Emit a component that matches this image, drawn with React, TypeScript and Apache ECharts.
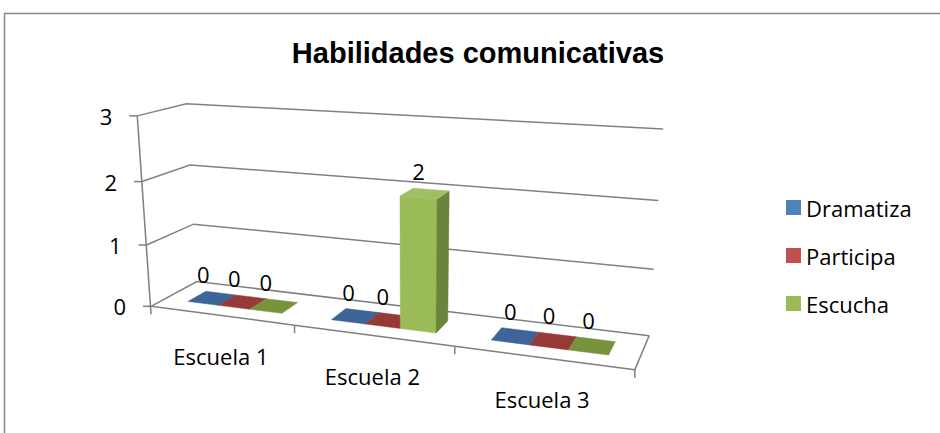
import React, { useEffect, useRef } from "react";
import * as echarts from "echarts";

// ---------- data ----------
const categories = ["Escuela 1", "Escuela 2", "Escuela 3"];
const seriesNames = ["Dramatiza", "Participa", "Escucha"];
const dramatiza = [0, 0, 0];
const participa = [0, 0, 0];
const escucha = [0, 2, 0];
const yTicks = [0, 1, 2, 3];
const yMax = 3;
const title = "Habilidades comunicativas";

// ---------- styles ----------
const FRONT = ["#4F81BD", "#C0504D", "#9BBB59"];
const SIDE = ["#3B6192", "#913B39", "#6B833B"];
const TOP = ["#5A8AC6", "#C85B58", "#A0BF62"];
const FLAT = ["#3D6597", "#963A38", "#78933E"];
const GRID = "#808080";
const LW = 1.5;
const FONT = "'Open Sans', sans-serif";

// perspective calibration: [cat, value, depth] -> page pixel
const CAL: number[][] = [
  [0, 0, 0, 151, 306],
  [1, 0, 0, 294, 325],
  [2, 0, 0, 455, 347],
  [3, 0, 0, 635, 369.3],
  [0, 1, 0, 146.7, 245],
  [0, 2, 0, 141.7, 181.7],
  [0, 3, 0, 137.7, 116],
  [0, 0, 1, 196.7, 281.7],
  [0, 1, 1, 195, 224.3],
  [0, 2, 1, 188.3, 165],
  [0, 3, 1, 186.7, 103.3],
  [3, 0, 1, 649.3, 335.7],
  [3, 1, 1, 653.3, 269],
  [3, 2, 1, 658.3, 200.7],
  [3, 3, 1, 663.3, 129],
];

function fitProjection(cal: number[][]) {
  const rows: number[][] = [];
  const rhs: number[] = [];
  for (const [X, Y, Z, u0, v0] of cal) {
    const u = (u0 - 400) / 100;
    const v = (v0 - 250) / 100;
    rows.push([X, Y, Z, 1, 0, 0, 0, 0, -u * X, -u * Y, -u * Z]);
    rhs.push(u);
    rows.push([0, 0, 0, 0, X, Y, Z, 1, -v * X, -v * Y, -v * Z]);
    rhs.push(v);
  }
  const n = 11;
  const M = Array.from({ length: n }, () => new Array(n + 1).fill(0));
  for (let r = 0; r < rows.length; r++) {
    for (let i = 0; i < n; i++) {
      for (let j = 0; j < n; j++) M[i][j] += rows[r][i] * rows[r][j];
      M[i][n] += rows[r][i] * rhs[r];
    }
  }
  for (let c = 0; c < n; c++) {
    let p = c;
    for (let r = c + 1; r < n; r++) if (Math.abs(M[r][c]) > Math.abs(M[p][c])) p = r;
    const tmp = M[c];
    M[c] = M[p];
    M[p] = tmp;
    for (let r = 0; r < n; r++) {
      if (r === c) continue;
      const f = M[r][c] / M[c][c];
      for (let k = c; k <= n; k++) M[r][k] -= f * M[c][k];
    }
  }
  const p = M.map((row, i) => row[n] / row[i]);
  return (X: number, Y: number, Z: number): number[] => {
    const w = p[8] * X + p[9] * Y + p[10] * Z + 1;
    return [
      ((p[0] * X + p[1] * Y + p[2] * Z + p[3]) / w) * 100 + 400,
      ((p[4] * X + p[5] * Y + p[6] * Z + p[7]) / w) * 100 + 250,
    ];
  };
}

const project = fitProjection(CAL);
const GAP_WIDTH = 1.5;
const BAR_W = 1 / (seriesNames.length + GAP_WIDTH);
const Z0 = 0.3;
const Z1 = 0.7;

// world coordinates from the library's scales
function worldOf(params: any, api: any, cat: number, val: number) {
  const cs = params.coordSys;
  const pt = api.coord([cat, val]);
  const band = api.size([1, 0])[0];
  const X = (pt[0] - cs.x - band / 2) / band; // category start
  const Y = ((cs.y + cs.height - pt[1]) / cs.height) * yMax;
  return [X, Y];
}

function textEl(text: string, x: number, y: number, align: string, size = 22) {
  return {
    type: "text",
    x,
    y,
    style: {
      text,
      fill: "#000",
      font: `${size}px ${FONT}`,
      textAlign: align,
      textVerticalAlign: "middle",
      align,
      verticalAlign: "middle",
    },
  };
}

function line(a: number[], b: number[]) {
  return {
    type: "line",
    shape: { x1: a[0], y1: a[1], x2: b[0], y2: b[1] },
    style: { stroke: GRID, lineWidth: LW },
  };
}

function makeBarSeries(name: string, values: number[], s: number) {
  return {
    type: "custom",
    name,
    z: 3,
    color: FRONT[s],
    itemStyle: { color: FRONT[s] },
    data: values.map((v, i) => [i, v]),
    renderItem: (params: any, api: any) => {
      const cat = api.value(0);
      const val = api.value(1);
      const [X, Y] = worldOf(params, api, cat, val);
      const x0 = X + (GAP_WIDTH / 2) * BAR_W + s * BAR_W;
      const x1 = x0 + BAR_W;
      const P = (x: number, y: number, z: number) => project(x, y, z);
      const children: any[] = [];
      const top = [P(x0, Y, Z0), P(x1, Y, Z0), P(x1, Y, Z1), P(x0, Y, Z1)];
      if (Y > 0.0001) {
        const front = [P(x0, 0, Z0), P(x1, 0, Z0), P(x1, Y, Z0), P(x0, Y, Z0)];
        const side = [P(x1, 0, Z0), P(x1, 0, Z1), P(x1, Y, Z1), P(x1, Y, Z0)];
        children.push({ type: "polygon", shape: { points: front }, style: { fill: FRONT[s], stroke: FRONT[s], lineWidth: 0.5 } });
        children.push({ type: "polygon", shape: { points: side }, style: { fill: SIDE[s], stroke: SIDE[s], lineWidth: 0.5 } });
        children.push({ type: "polygon", shape: { points: top }, style: { fill: TOP[s], stroke: TOP[s], lineWidth: 0.5 } });
      } else {
        children.push({ type: "polygon", shape: { points: top }, style: { fill: FLAT[s], stroke: FLAT[s], lineWidth: 0.5 } });
      }
      const minY = Math.min(...top.map((p) => p[1]));
      const lx = (top[0][0] + top[1][0]) / 2;
      children.push(textEl(String(val), lx, minY - 17, "center"));
      return { type: "group", children };
    },
  };
}

const wallSeries = {
  type: "custom",
  name: "walls",
  z: 1,
  silent: true,
  data: yTicks.map((v) => [0, v]),
  renderItem: (params: any, api: any) => {
    const val = api.value(1);
    const [, Y] = worldOf(params, api, 0, val);
    const nCat = categories.length;
    const a = project(0, Y, 0);
    const b = project(0, Y, 1);
    const c = project(nCat, Y, 1);
    const children: any[] = [
      { type: "polyline", shape: { points: [a, b, c] }, style: { stroke: GRID, lineWidth: LW, fill: "none" } },
      line(a, [a[0] - 8, a[1]]),
      textEl(String(val), a[0] - 25, a[1], "right"),
    ];
    if (params.dataIndex === 0) {
      const [, YT] = worldOf(params, api, 0, yMax);
      const t = project(0, YT, 0);
      children.push(line([a[0], a[1] + 8], t));
    }
    return { type: "group", children };
  },
};

const catSeries = {
  type: "custom",
  name: "categories",
  z: 1,
  silent: true,
  data: categories.map((_, i) => [i, 0]),
  renderItem: (params: any, api: any) => {
    const cat = api.value(0);
    const [X, Y] = worldOf(params, api, cat, 0);
    const a = project(X, Y, 0);
    const b = project(X + 1, Y, 0);
    const m = project(X + 0.5, Y, 0);
    const children: any[] = [
      line(a, b),
      line(b, [b[0], b[1] + 8]),
      textEl(categories[cat], m[0], m[1] + 41, "center"),
    ];
    if (cat === categories.length - 1) {
      children.push(line(b, project(X + 1, Y, 1)));
    }
    return { type: "group", children };
  },
};

export default function App() {
  const ref = useRef<HTMLDivElement>(null);
  useEffect(() => {
    if (!ref.current) return;
    const chart = echarts.init(ref.current, undefined, { renderer: "svg" });
    chart.setOption({
      animation: false,
      backgroundColor: "#fff",
      title: {
        text: title,
        left: 478,
        top: 38,
        padding: 0,
        textAlign: "center",
        textStyle: { fontFamily: "'Liberation Sans', Arial, sans-serif", fontWeight: "bold", fontSize: 29, color: "#000" },
      },
      legend: {
        data: seriesNames,
        orient: "vertical",
        left: 781,
        top: 191.5,
        itemWidth: 15,
        itemHeight: 15,
        itemGap: 26,
        icon: "rect",
        textStyle: { fontFamily: FONT, fontSize: 22, color: "#000" },
      },
      grid: { left: 0, top: 0, width: 300, height: 300, show: false },
      xAxis: { type: "category", data: categories, show: false },
      yAxis: { type: "value", min: 0, max: yMax, interval: 1, show: false },
      graphic: [
        {
          type: "rect",
          shape: { x: 4.5, y: 13.5, width: 1000, height: 1000 },
          style: { fill: "none", stroke: "#878787", lineWidth: 1.5 },
          silent: true,
        },
      ],
      series: [
        wallSeries,
        catSeries,
        makeBarSeries(seriesNames[0], dramatiza, 0),
        makeBarSeries(seriesNames[1], participa, 1),
        makeBarSeries(seriesNames[2], escucha, 2),
      ],
    });
    return () => chart.dispose();
  }, []);
  return (
    <div
      ref={ref}
      style={{ position: "fixed", left: 0, top: 0, width: 940, height: 433, background: "#fff" }}
    />
  );
}
